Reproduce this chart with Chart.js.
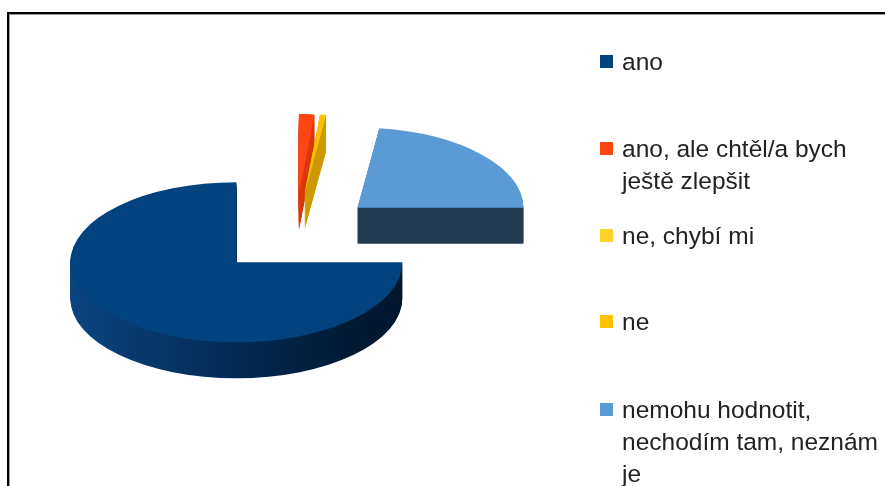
<!DOCTYPE html>
<html>
<head>
<meta charset="utf-8">
<script src="https://cdn.jsdelivr.net/npm/chart.js@4.4.0/dist/chart.umd.min.js"></script>
<style>
  html, body { margin: 0; padding: 0; background: #fff; }
  #wrap { position: relative; width: 885px; height: 486px; overflow: hidden; }
  #frame {
    position: absolute; left: 7px; top: 12px; width: 900px; height: 500px;
    border-left: 2px solid #000; border-top: 2px solid #000;
    box-shadow: inset 1px 1px 0 #9a9a9a;
  }
  #pie { position: absolute; left: 0; top: 0; }
  #legend { position: absolute; left: 0; top: 0; font-family: "Liberation Sans", Arial, sans-serif; font-size: 24.5px; color: #222; }
  .item { position: absolute; left: 600px; line-height: 32px; white-space: nowrap; }
  .item .box { position: absolute; left: 0; top: 9px; width: 13px; height: 13px; }
  .item .txt { position: absolute; left: 22px; top: 0; }
</style>
</head>
<body>
<div id="wrap">
  <div id="frame"></div>
  <canvas id="pie" width="885" height="486"></canvas>
  <div id="legend"></div>
</div>
<script>
// odpovedi (kazda polozka = radky textu v legende)
const categories = [
  ["ano"],
  ["ano, ale chtěl/a bych", "ještě zlepšit"],
  ["ne, chybí mi"],
  ["ne"],
  ["nemohu hodnotit,", "nechodím tam, neznám", "je"]
];
// podil odpovedi v %
const values = [75.0, 1.5, 0, 0.6, 22.9];
const topColors = ["#02427f", "#ff4512", "#ffd42a", "#ffc000", "#5b9bd5"];
const sideColors = [null, "#d93a0c", "#d9b000", "#cc9a00", "#243d53"];
// y pozice prvniho radku kazde polozky legendy
const legendRows = [62, 149, 236, 322, 410];

// jednoduchy "3D" kolac: zplostit, vysunout vysece a pridat bocni stenu
const pie3d = {
  id: "pie3d",
  beforeDatasetsDraw(chart, args, opts) {
    const ctx = chart.ctx;
    const arcs = chart.getDatasetMeta(0).data;
    if (!arcs.length) return false;
    const cx = arcs[0].x, cy = arcs[0].y, R = arcs[0].outerRadius;

    const drawArc = (arc, fill, dy) => {
      const mid = (arc.startAngle + arc.endAngle) / 2;
      ctx.save();
      ctx.translate(cx, cy + dy);
      ctx.scale(1, opts.tilt);
      ctx.translate(-cx, -cy);
      ctx.translate(Math.cos(mid) * opts.explode, Math.sin(mid) * opts.explode);
      let f = fill;
      if (fill === null) {
        // tmava strana hlavni vysece - prechod zleva doprava
        f = ctx.createLinearGradient(cx - R, 0, cx + R, 0);
        f.addColorStop(0, "#0c4480");
        f.addColorStop(0.45, "#032c59");
        f.addColorStop(0.85, "#001a33");
        f.addColorStop(1, "#00172d");
      }
      const el = Object.create(arc);
      el.options = Object.assign({}, arc.options, { backgroundColor: f, borderWidth: 0, offset: 0 });
      el.draw(ctx);
      ctx.restore();
    };

    arcs.forEach((arc, i) => {
      if (arc.circumference === 0) return;
      for (let d = opts.depth; d >= 1; d--) drawArc(arc, sideColors[i], d);
    });
    arcs.forEach((arc, i) => {
      if (arc.circumference === 0) return;
      drawArc(arc, topColors[i], 0);
    });
    return false;
  }
};

new Chart(document.getElementById("pie"), {
  type: "pie",
  data: {
    labels: categories,
    datasets: [{
      data: values,
      backgroundColor: topColors,
      borderWidth: 0
    }]
  },
  options: {
    responsive: false,
    animation: false,
    devicePixelRatio: 1,
    rotation: 90,
    radius: 166,
    layout: { padding: { left: 0, top: 0, right: 295, bottom: 18 } },
    events: [],
    plugins: {
      legend: { display: false },
      tooltip: { enabled: false },
      pie3d: { tilt: 0.482, explode: 83, depth: 36 }
    }
  },
  plugins: [pie3d]
});

// legenda vpravo
const legend = document.getElementById("legend");
categories.forEach((lines, i) => {
  const item = document.createElement("div");
  item.className = "item";
  item.style.top = (legendRows[i] - 16) + "px";
  const box = document.createElement("div");
  box.className = "box";
  box.style.background = topColors[i];
  const txt = document.createElement("div");
  txt.className = "txt";
  txt.innerHTML = lines.join("<br>");
  item.appendChild(box);
  item.appendChild(txt);
  legend.appendChild(item);
});
</script>
</body>
</html>
